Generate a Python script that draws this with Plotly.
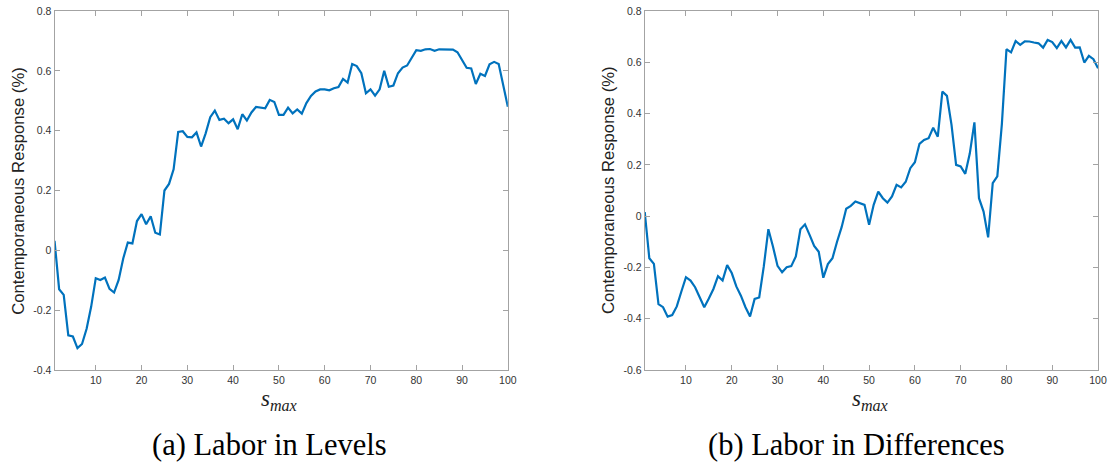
import plotly.graph_objects as go

W, H = 1112, 463

s_max = list(range(1, 101))

levels = [
    0.032, -0.130, -0.149, -0.284, -0.288, -0.327, -0.313, -0.262, -0.188, -0.093,
    -0.099, -0.091, -0.129, -0.141, -0.099, -0.027, 0.026, 0.023, 0.098, 0.121,
    0.087, 0.114, 0.059, 0.053, 0.200, 0.222, 0.271, 0.396, 0.398, 0.379,
    0.378, 0.394, 0.347, 0.391, 0.445, 0.467, 0.436, 0.440, 0.425, 0.438,
    0.405, 0.455, 0.434, 0.461, 0.479, 0.478, 0.475, 0.503, 0.496, 0.453,
    0.453, 0.477, 0.458, 0.471, 0.457, 0.492, 0.516, 0.531, 0.538, 0.538,
    0.535, 0.542, 0.546, 0.573, 0.561, 0.623, 0.616, 0.592, 0.525, 0.538,
    0.517, 0.538, 0.600, 0.547, 0.551, 0.592, 0.611, 0.618, 0.642, 0.669,
    0.667, 0.672, 0.673, 0.667, 0.672, 0.672, 0.673, 0.671, 0.662, 0.636,
    0.610, 0.608, 0.556, 0.590, 0.583, 0.622, 0.630, 0.623, 0.553, 0.480,
]

differences = [
    0.016, -0.164, -0.186, -0.343, -0.355, -0.392, -0.386, -0.352, -0.294, -0.238,
    -0.251, -0.277, -0.316, -0.355, -0.321, -0.284, -0.234, -0.251, -0.191, -0.222,
    -0.274, -0.310, -0.355, -0.391, -0.323, -0.317, -0.196, -0.051, -0.118, -0.194,
    -0.219, -0.199, -0.195, -0.157, -0.051, -0.032, -0.073, -0.116, -0.139, -0.240,
    -0.187, -0.164, -0.100, -0.043, 0.029, 0.040, 0.057, 0.051, 0.044, -0.034,
    0.044, 0.096, 0.070, 0.053, 0.077, 0.122, 0.112, 0.134, 0.187, 0.210,
    0.282, 0.297, 0.304, 0.345, 0.310, 0.486, 0.469, 0.356, 0.200, 0.194,
    0.165, 0.245, 0.366, 0.070, 0.018, -0.083, 0.129, 0.155, 0.360, 0.651,
    0.639, 0.683, 0.668, 0.682, 0.681, 0.677, 0.674, 0.657, 0.687, 0.679,
    0.655, 0.683, 0.658, 0.687, 0.657, 0.658, 0.599, 0.625, 0.612, 0.577,
]

x_ticks = [10, 20, 30, 40, 50, 60, 70, 80, 90, 100]
y_ticks_a = [-0.4, -0.2, 0, 0.2, 0.4, 0.6, 0.8]
y_ticks_a_text = ["-0.4", "-0.2", "0", "0.2", "0.4", "0.6", "0.8"]
y_ticks_b = [-0.6, -0.4, -0.2, 0, 0.2, 0.4, 0.6, 0.8]
y_ticks_b_text = ["-0.6", "-0.4", "-0.2", "0", "0.2", "0.4", "0.6", "0.8"]

y_title = "Contemporaneous Response (%)"
x_title = "<i>s</i><sub><i>max</i></sub>"
captions = ["(a) Labor in Levels", "(b) Labor in Differences"]

LINE = "#0072BD"
AXC = "#a3a3a3"
TXT = "#333333"
SANS = "Liberation Sans"
SERIF = "Liberation Serif"

fig = go.Figure()
fig.add_trace(go.Scatter(x=s_max, y=levels, mode="lines",
                         line=dict(color=LINE, width=2.2), xaxis="x", yaxis="y",
                         showlegend=False))
fig.add_trace(go.Scatter(x=s_max, y=differences, mode="lines",
                         line=dict(color=LINE, width=2.2), xaxis="x2", yaxis="y2",
                         showlegend=False))

L0, R0 = 55, 512
L1, R1 = 650, 1107
TOP, BOT = 11, 370

common_axis = dict(showline=True, linecolor=AXC, linewidth=1, mirror="ticks",
                   ticks="inside", ticklen=5, tickcolor=AXC, tickwidth=1,
                   showgrid=False, zeroline=False,
                   tickfont=dict(family=SANS, size=10.5, color=TXT))

fig.update_layout(
    width=W, height=H,
    margin=dict(l=0, r=0, t=TOP, b=H - BOT),
    paper_bgcolor="white", plot_bgcolor="white",
    xaxis=dict(domain=[L0 / W, R0 / W], range=[1, 100], tickvals=x_ticks,
               anchor="y", **common_axis),
    yaxis=dict(domain=[0, 1], range=[-0.4, 0.8], tickvals=y_ticks_a,
               ticktext=y_ticks_a_text, anchor="x", **common_axis),
    xaxis2=dict(domain=[L1 / W, R1 / W], range=[1, 100], tickvals=x_ticks,
                anchor="y2", **common_axis),
    yaxis2=dict(domain=[0, 1], range=[-0.6, 0.8], tickvals=y_ticks_b,
                ticktext=y_ticks_b_text, anchor="x2", **common_axis),
)

ph = BOT - TOP


def py(pix):
    return (BOT - pix) / ph


anns = []
for xc, ytx in [(282, 18.5), (878, 613.5)]:
    anns.append(dict(text=y_title, textangle=-90, x=ytx / W, y=py(190.5),
                     xref="paper", yref="paper", xanchor="center", yanchor="middle",
                     showarrow=False, font=dict(family=SANS, size=16.7, color="#222222")))
    anns.append(dict(text=x_title, x=xc / W, y=py(400), xref="paper", yref="paper",
                     xanchor="center", yanchor="middle", showarrow=False,
                     font=dict(family=SERIF, size=23, color="#222222")))
for cap, capx in zip(captions, [272, 863.5]):
    anns.append(dict(text=cap, x=capx / W, y=py(445), xref="paper", yref="paper",
                     xanchor="center", yanchor="middle", showarrow=False,
                     font=dict(family=SERIF, size=30.5, color="black")))
fig.update_layout(annotations=anns)

fig.write_html("out.html")
